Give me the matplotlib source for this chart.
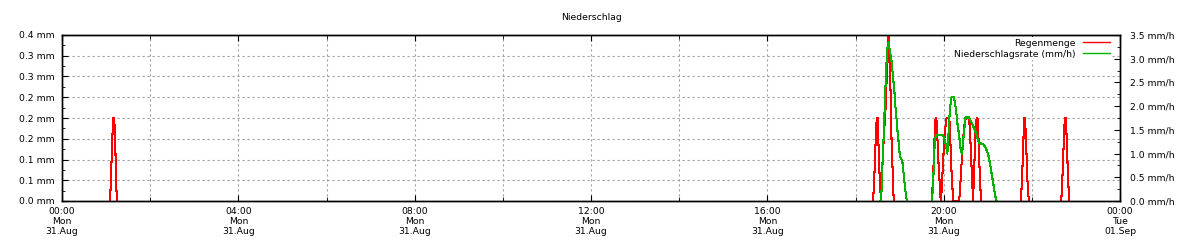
import matplotlib.pyplot as plt
import numpy as np
from matplotlib.lines import Line2D
from matplotlib.ticker import FixedLocator, MultipleLocator

plt.rcParams['font.family'] = ['DejaVu Sans']
plt.rcParams['font.size'] = 6.7

# one reading per minute, start = minutes after 00:00 on 31.Aug
# Regenmenge (mm)
rain_0105 = [0, 0.025, 0.075, 0.125, 0.175, 0.2, 0.2, 0.165, 0.1, 0.03, 0]
rain_1824 = [0, 0.04, 0.075, 0.125, 0.17, 0.2, 0.2, 0.15, 0.1, 0.05, 0.02,
             0.03, 0.07, 0.1, 0.135, 0.167, 0.2, 0.225, 0.275, 0.325, 0.375, 0.4,
             0.35, 0.3, 0.25, 0.15, 0.1, 0.05, 0]
rain_1944 = [0, 0.04, 0.075, 0.125, 0.17, 0.2, 0.2, 0.17, 0.13, 0.09, 0.06, 0.03, 0,
             0.02, 0.05, 0.09, 0.12, 0.15, 0.17, 0.19, 0.2, 0.2, 0.2, 0.2, 0.19, 0.15,
             0.1, 0.06, 0.03, 0,
             0, 0, 0, 0, 0, 0, 0, 0,
             0.02, 0.05, 0.08, 0.11, 0.14, 0.16, 0.18, 0.19, 0.2, 0.2, 0.2, 0.2, 0.2,
             0.19, 0.16, 0.12, 0.08, 0.04, 0,
             0.05, 0.1, 0.15, 0.19, 0.2, 0.2, 0.17, 0.12, 0.07, 0.03, 0]
rain_2145 = [0, 0.03, 0.07, 0.12, 0.17, 0.2, 0.19, 0.15, 0.1, 0.05, 0.02, 0]
rain_2240 = [0, 0.03, 0.075, 0.12, 0.17, 0.2, 0.2, 0.17, 0.12, 0.07, 0.03, 0]
rain_starts = [65, 1104, 1184, 1305, 1360]

# Niederschlagsrate (mm/h)
rate_1834 = [0, 0.1, 0.4, 0.9, 1.25, 1.65, 2.1, 2.5, 2.85, 3.15, 3.3, 3.35, 3.25,
             3.15, 3.05, 2.95, 2.8, 2.62, 2.47, 2.3, 2.05, 1.88, 1.7, 1.5, 1.35,
             1.18, 1.02, 0.93, 0.9, 0.87, 0.8, 0.66, 0.5, 0.35, 0.2, 0.1, 0]
rate_1944 = [0, 0.2, 0.5, 1.0, 1.2, 1.35, 1.39,
             1.39, 1.39, 1.39, 1.39, 1.39, 1.39, 1.39, 1.39, 1.39,
             1.35, 1.3, 1.25, 1.18, 1.1, 1.0, 1.25, 1.55, 1.8, 1.98, 2.15,
             2.19, 2.19, 2.19, 2.19, 2.1, 2.0, 1.88, 1.75, 1.6, 1.5, 1.37, 1.25,
             1.1, 1.04, 1.0, 1.15, 1.35, 1.48, 1.68,
             1.78, 1.78, 1.78, 1.78, 1.78,
             1.75, 1.71, 1.68, 1.65, 1.62, 1.58, 1.55, 1.52, 1.47, 1.43, 1.38,
             1.32, 1.26, 1.23, 1.22, 1.22, 1.21, 1.21, 1.2, 1.2, 1.18, 1.15,
             1.12, 1.09, 1.05, 1.0, 0.95, 0.87, 0.8, 0.7, 0.6, 0.5, 0.42, 0.32,
             0.22, 0.12, 0.05, 0]
rate_starts = [1114, 1184]

x_labels = ['00:00\nMon\n31.Aug', '04:00\nMon\n31.Aug', '08:00\nMon\n31.Aug',
            '12:00\nMon\n31.Aug', '16:00\nMon\n31.Aug', '20:00\nMon\n31.Aug',
            '00:00\nTue\n01.Sep']
left_labels = ['0.0 mm', '0.1 mm', '0.1 mm', '0.2 mm', '0.2 mm',
               '0.2 mm', '0.3 mm', '0.3 mm', '0.4 mm']
right_labels = ['0.0 mm/h', '0.5 mm/h', '1.0 mm/h', '1.5 mm/h',
                '2.0 mm/h', '2.5 mm/h', '3.0 mm/h', '3.5 mm/h']

RED = '#ff0000'
GREEN = '#00b400'

fig = plt.figure(figsize=(12, 2.5), dpi=100)
ax = fig.add_axes([62/1200, 49/250, 1058/1200, 166/250])
ax2 = ax.twinx()

for start, vals in zip(rain_starts, [rain_0105, rain_1824, rain_1944, rain_2145, rain_2240]):
    ax.plot(np.arange(start, start + len(vals)), vals, color=RED, lw=0.75,
            antialiased=False)
for start, vals in zip(rate_starts, [rate_1834, rate_1944]):
    ax2.plot(np.arange(start, start + len(vals)), vals, color=GREEN, lw=0.75,
             antialiased=False)

ax.set_xlim(0, 1440)
ax.set_ylim(0, 0.4)
ax2.set_ylim(0, 3.5)

ax.xaxis.set_major_locator(FixedLocator(np.arange(0, 1441, 240)))
ax.xaxis.set_minor_locator(MultipleLocator(120))
ax.set_xticklabels(x_labels)
ax.yaxis.set_major_locator(FixedLocator(np.arange(0, 0.401, 0.05)))
ax.yaxis.set_minor_locator(MultipleLocator(0.025))
ax.set_yticklabels(left_labels)
ax2.yaxis.set_major_locator(FixedLocator(np.arange(0, 3.51, 0.5)))
ax2.yaxis.set_minor_locator(MultipleLocator(0.25))
ax2.set_yticklabels(right_labels)

ax.tick_params(axis='x', which='both', direction='in', top=True, pad=4)
ax.tick_params(axis='x', which='major', length=4)
ax.tick_params(axis='x', which='minor', length=3)
ax.tick_params(axis='y', which='both', direction='in', pad=5)
ax.tick_params(axis='y', which='major', length=4)
ax.tick_params(axis='y', which='minor', length=2.5)
ax2.tick_params(axis='y', which='both', direction='in', pad=7)
ax2.tick_params(axis='y', which='major', length=4)
ax2.tick_params(axis='y', which='minor', length=2.5)

ax.grid(True, which='both', axis='x', color='#a0a0a0', ls=(0, (2, 2.5)), lw=0.8)
ax.grid(True, which='major', axis='y', color='#a0a0a0', ls=(0, (2, 2.5)), lw=0.8)
ax.set_axisbelow(True)

for a in (ax, ax2):
    for s in a.spines.values():
        s.set_linewidth(1.0)

handles = [Line2D([], [], color=RED, lw=1.0), Line2D([], [], color=GREEN, lw=1.0)]
ax2.legend(handles, ['Regenmenge', 'Niederschlagsrate (mm/h)'], loc='upper right',
           bbox_to_anchor=(1 - 5/1058, 1 + 1/166),
           markerfirst=False, frameon=True, facecolor='white', edgecolor='none',
           framealpha=1, fancybox=False, handlelength=2.9, handletextpad=0.8,
           labelspacing=0.2, borderpad=0.2, borderaxespad=0.3)

fig.text(591/1200, 1 - 17/250, 'Niederschlag', ha='center', va='center')

fig.savefig('out.png', dpi=100)
